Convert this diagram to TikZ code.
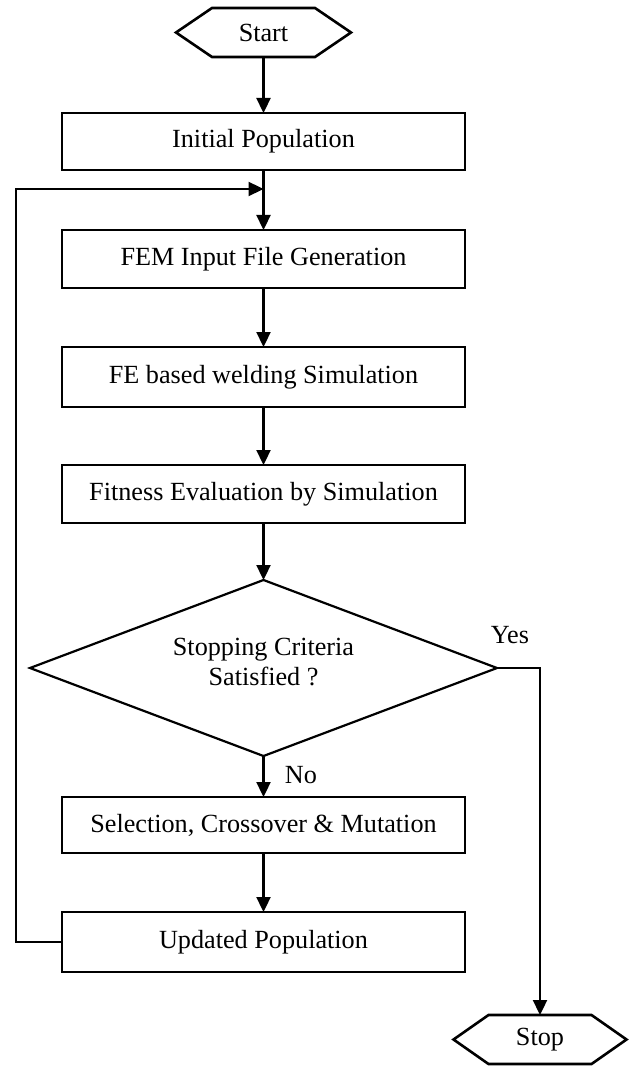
\documentclass[tikz,border=0pt]{standalone}
\usepackage{fontspec}
\setmainfont{Liberation Serif}
\usetikzlibrary{arrows.meta,shapes.geometric}
\begin{document}
\begin{tikzpicture}[x=0.5pt,y=-0.5pt,
  font=\fontsize{13.1}{15}\selectfont,
  box/.style={draw, rectangle, minimum width=201.5pt, inner sep=0pt, outer sep=0pt, line width=0.9pt},
  boldbox/.style={box, line width=1.3pt},
  term/.style={rectangle, minimum width=51.5pt, minimum height=24.5pt, inner sep=0pt, outer sep=0pt},
  hexline/.style={line width=1.3pt, line join=miter},
  decision/.style={draw, diamond, aspect=2.65, minimum width=233.5pt, minimum height=88pt, inner sep=0pt, outer sep=0pt, align=center, line width=1.1pt},
  arr/.style={-{Triangle[length=7.5pt,width=7pt]}, line width=1.15pt},
  lbl/.style={inner sep=0pt}
]
\useasboundingbox (0,0) rectangle (634,1069);

% nodes
\node[term] (start) at (263.5,32.5) {Start};
\draw[hexline] (start.north west) -- (start.north east) -- ([xshift=18pt]start.east)
  -- (start.south east) -- (start.south west) -- ([xshift=-18pt]start.west) -- cycle;

\node[boldbox, minimum height=28.5pt] (init) at (263.5,141.5) {Initial Population};
\node[boldbox, minimum height=29pt]   (fem)  at (263.5,259)   {FEM Input File Generation};
\node[box, minimum height=30pt]       (fe)   at (263.5,377)   {FE based welding Simulation};
\node[box, minimum height=29pt]       (fit)  at (263.5,494)   {Fitness Evaluation by Simulation};
\node[decision] (dec) at (263.5,668) {Stopping Criteria\\Satisfied ?\\[-9pt]};
\node[box, minimum height=28pt]       (sel)  at (263.5,825)   {Selection, Crossover \& Mutation};
\node[box, minimum height=30pt]       (upd)  at (263.5,942)   {Updated Population};

\node[term] (stop) at (540,1039.5) {Stop};
\draw[hexline] (stop.north west) -- (stop.north east) -- ([xshift=17.5pt]stop.east)
  -- (stop.south east) -- (stop.south west) -- ([xshift=-17.5pt]stop.west) -- cycle;

\node[lbl] (yes) at (510,635) {Yes};
\node[lbl] (no)  at (301,775) {No};

\coordinate (j)  at (263.5,189);
\coordinate (lc) at (16,189);

% connectors
\draw[arr] (start.south) -- (init.north);
\draw[arr] (init.south) -- (fem.north);
\draw[arr] (upd.west) -| (lc) -- (j);
\draw[arr] (fem.south) -- (fe.north);
\draw[arr] (fe.south) -- (fit.north);
\draw[arr] (fit.south) -- (dec.north);
\draw[arr] (dec.south) -- (sel.north);
\draw[arr] (sel.south) -- (upd.north);
\draw[arr] (dec.east) -| (stop.north);
\end{tikzpicture}
\end{document}
